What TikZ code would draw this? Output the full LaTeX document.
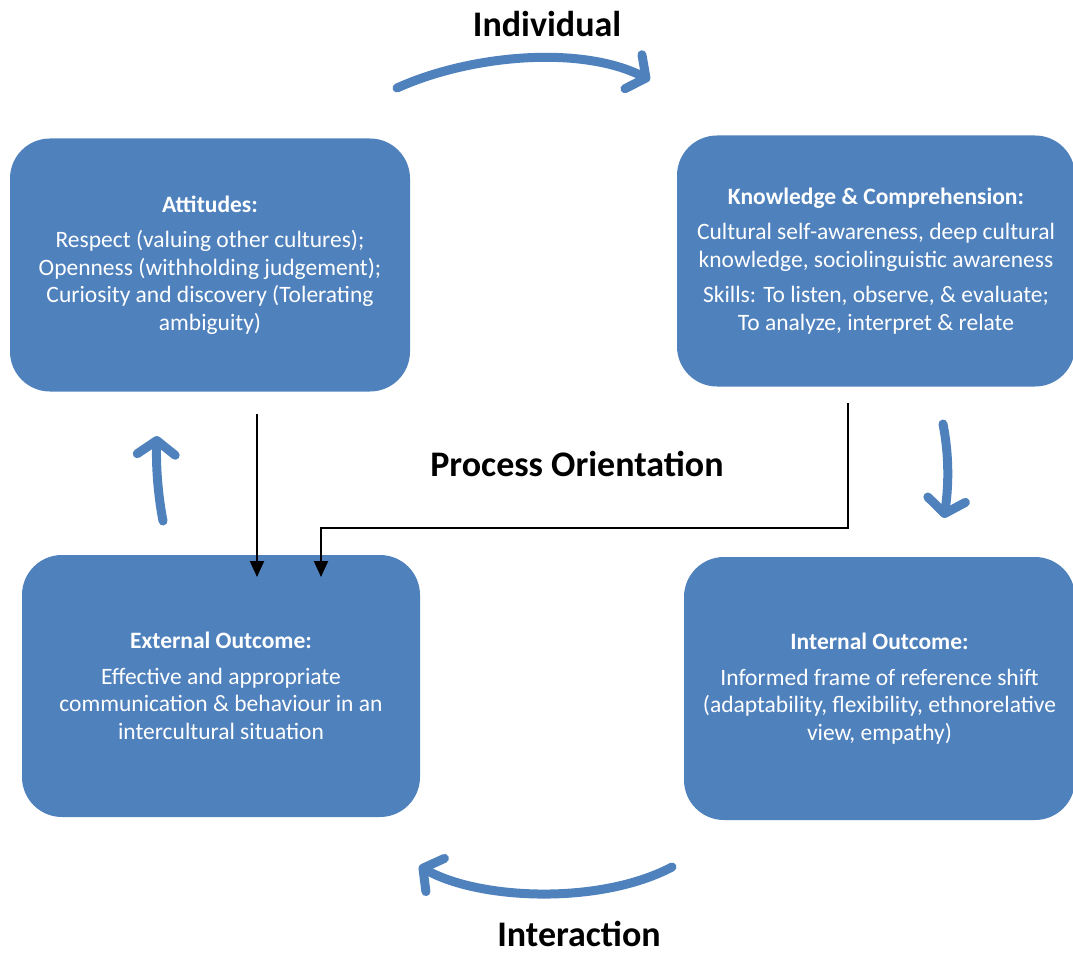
\documentclass[tikz,border=0pt]{standalone}
\usepackage{fontspec}
\setmainfont{Carlito}
\usetikzlibrary{arrows.meta,calc}

\definecolor{boxblue}{RGB}{79,129,189}

\begin{document}
\begin{tikzpicture}[x=1pt,y=-1pt,
                box/.style={fill=boxblue,rounded corners=40pt,text=white,align=center,
                  font=\fontsize{23.5}{27.5}\selectfont,inner sep=0pt},
                title/.style={font=\fontsize{36}{40}\selectfont\bfseries,anchor=base,inner sep=0pt},
                turn/.style={boxblue,line width=9pt,line cap=round,line join=round,
                  -{Straight Barb[length=14pt,width=38pt,round]}},
                link/.style={line width=2pt,-{Triangle[width=14pt,length=16pt]}}]
  \useasboundingbox (0,0) rectangle (1073,957);
  \clip (0,0) rectangle (1073,957);
  % boxes
  \node[box,minimum width=400pt,minimum height=253pt] (att) at (210,265)
    {\textbf{Attitudes:}\\[8pt]
     Respect (valuing other cultures);\\
     Openness (withholding judgement);\\
     Curiosity and discovery (Tolerating\\
     ambiguity)};
  \node[box,minimum width=398pt,minimum height=251pt] (know) at (876,261)
    {\textbf{Knowledge \& Comprehension:}\\[8pt]
     Cultural self-awareness, deep cultural\\
     knowledge, sociolinguistic awareness\\[8pt]
     Skills: To listen, observe, \& evaluate;\\
     To analyze, interpret \& relate};
  \node[box,minimum width=398pt,minimum height=262pt] (ext) at (221,686)
    {\textbf{External Outcome:}\\[8pt]
     Effective and appropriate\\
     communication \& behaviour in an\\
     intercultural situation};
  \node[box,minimum width=391pt,minimum height=263pt] (int) at (879.5,688.5)
    {\textbf{Internal Outcome:}\\[8pt]
     Informed frame of reference shift\\
     (adaptability, flexibility, ethnorelative\\
     view, empathy)};
  % titles
  \node[title] (indiv) at (547,37) {Individual};
  \node[title] (proc)  at (577,476) {Process Orientation};
  \node[title] (inter) at (579,946) {Interaction};
  % cycle arrows
  \draw[turn] (397,88) .. controls (470,55) and (580,45) .. (650,80);
  \draw[turn] (943,424) .. controls (950,460) and (948,490) .. (944,518);
  \draw[turn] (672,867) .. controls (600,905) and (480,900) .. (419,866);
  \draw[turn] (163,521) .. controls (157,490) and (156,460) .. (157,436);
  % connectors
  \coordinate (l1) at (257,414);
  \coordinate (l2) at (848,403);
  \coordinate (e1) at (257,577);
  \coordinate (e2) at (321,577);
  \draw[link] (l1) -- (e1);
  \draw[link] (l2) |- ($(e2)+(0,-49)$) -- (e2);
\end{tikzpicture}
\end{document}
